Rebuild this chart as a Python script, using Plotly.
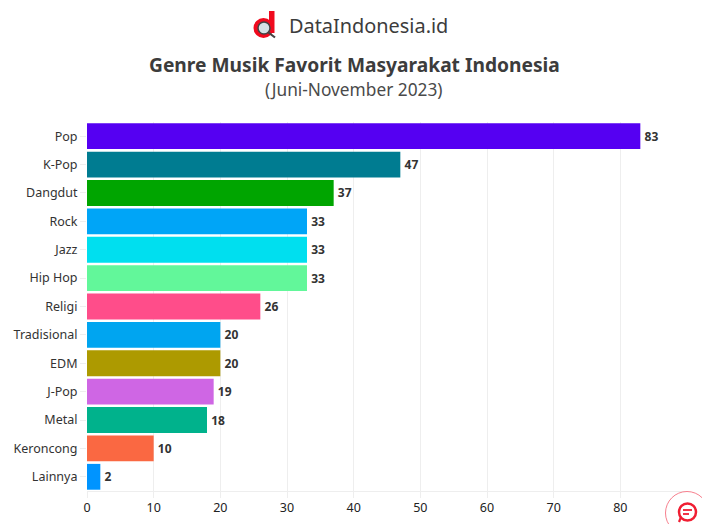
import plotly.graph_objects as go

genres = ["Pop", "K-Pop", "Dangdut", "Rock", "Jazz", "Hip Hop", "Religi", "Tradisional", "EDM", "J-Pop", "Metal", "Keroncong", "Lainnya"]
values = [83, 47, 37, 33, 33, 33, 26, 20, 20, 19, 18, 10, 2]
colors = ["#5500F2", "#007C91", "#00A500", "#00A5F7", "#00DFEF", "#62F79A", "#FF4D8A", "#00A5F0", "#AD9A00", "#CF66E4", "#00B28C", "#FA6842", "#0094FF"]
x_ticks = [0, 10, 20, 30, 40, 50, 60, 70, 80, 90]

W, H = 702, 524
L, R, T, B = 87, 15, 122, 33
PW, PH = W - L - R, H - T - B
FONT = "Noto Sans"

def px(x):
    return (x - L) / PW

def py(y):
    return 1 - (y - T) / PH

def circle(cx, cy, r, **kw):
    return dict(type="circle", xref="paper", yref="paper", x0=px(cx - r), x1=px(cx + r),
                y0=py(cy + r), y1=py(cy - r), **kw)

def line(x0, y0, x1, y1, color, width):
    return dict(type="line", xref="paper", yref="paper", x0=px(x0), x1=px(x1), y0=py(y0), y1=py(y1),
                line=dict(color=color, width=width))

def path(points, **kw):
    d = "M " + " L ".join(f"{px(a):.5f},{py(b):.5f}" for a, b in points) + " Z"
    return dict(type="path", xref="paper", yref="paper", path=d, **kw)

fig = go.Figure(go.Bar(
    y=genres, x=values, orientation="h",
    marker=dict(color=colors, line=dict(width=0)),
    text=values, texttemplate="\u200a%{x}", textposition="outside", cliponaxis=False,
    textfont=dict(family=FONT, size=12, color="#333333", weight=700),
    hoverinfo="skip",
))

shapes = [
    # logo
    circle(263.5, 28, 10, fillcolor="#F00A1E", line=dict(width=0), layer="above"),
    path([(269, 11), (274.5, 11), (274.5, 33), (269, 33)], fillcolor="#F00A1E", line=dict(width=0), layer="above"),
    circle(264, 28, 6, fillcolor="#D5E2E6", line=dict(color="#444444", width=1.5), layer="above"),
    line(268.5, 32.5, 275, 37.5, "#444444", 2.2),
    # chat badge
    circle(687, 513, 21.5, fillcolor="#FFFFFF", line=dict(color="#F7808E", width=1), layer="above"),
    circle(687.5, 512, 8.5, fillcolor="#FFFFFF", line=dict(color="#F01E32", width=2.5), layer="above"),
    line(683, 510, 692, 510, "#F01E32", 1.8),
    line(683, 514, 689, 514, "#F01E32", 1.8),
    line(681, 517, 679, 522, "#F01E32", 2.2),
]

annotations = [
    dict(text="DataIndonesia.id", xref="paper", yref="paper", x=px(287), y=py(26), xanchor="left", yanchor="middle",
         showarrow=False, font=dict(family=FONT, size=19.9, color="#3C3C3C")),
    dict(text="<b>Genre Musik Favorit Masyarakat Indonesia</b>", xref="paper", yref="paper", x=px(354), y=py(64),
         xanchor="center", yanchor="middle", showarrow=False, font=dict(family=FONT, size=19.2, color="#3C3C3C")),
    dict(text="(Juni-November 2023)", xref="paper", yref="paper", x=px(354), y=py(89), xanchor="center", yanchor="middle",
         showarrow=False, font=dict(family=FONT, size=17.3, color="#4A4A4A")),
]

fig.update_layout(
    width=W, height=H, autosize=False,
    margin=dict(l=L, r=R, t=T, b=B, pad=0),
    paper_bgcolor="#FFFFFF", plot_bgcolor="#FFFFFF",
    showlegend=False, bargap=0.09,
    font=dict(family=FONT, size=12.5, color="#333333"),
    shapes=shapes, annotations=annotations,
    xaxis=dict(range=[0, 90], tickvals=x_ticks, gridcolor="#EEEEEE", gridwidth=1, zeroline=False, automargin=False,
               showline=True, linecolor="#EEEEEE", ticks="outside", ticklen=6, tickcolor="#EEEEEE", ticklabelstandoff=-1,
               tickfont=dict(size=12.5, color="#222222"), fixedrange=True),
    yaxis=dict(autorange="reversed", categoryorder="array", categoryarray=genres, showgrid=False, automargin=False,
               showline=False, ticks="outside", ticklen=6, tickcolor="#EEEEEE", ticklabelstandoff=0,
               tickfont=dict(size=12.5, color="#333333"), fixedrange=True),
)

fig.write_html("out.html", config=dict(displayModeBar=False),
               post_script="document.body.style.margin='0';document.body.style.overflow='hidden';")
